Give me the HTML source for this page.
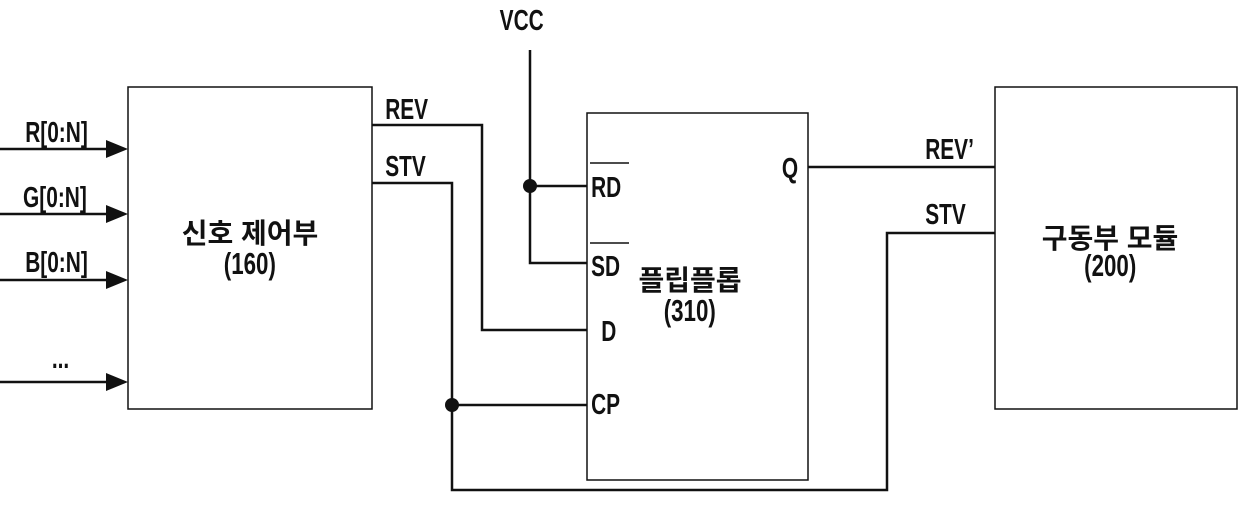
<!DOCTYPE html>
<html><head><meta charset="utf-8"><style>
html,body{margin:0;padding:0;background:#fff;}
svg text{font-family:"Liberation Sans","Noto Sans CJK KR",sans-serif;fill:#111;}
</style></head><body>
<svg width="1240" height="510" viewBox="0 0 1240 510" xmlns="http://www.w3.org/2000/svg">
<g fill="none" stroke="#111" stroke-width="1.5">
<rect x="128" y="87" width="244" height="322"/>
<rect x="587" y="113" width="221" height="367"/>
<rect x="995" y="87" width="242" height="322"/>
</g>
<g fill="none" stroke="#111" stroke-width="2.5">
<path d="M0,149 H112"/><path d="M0,214 H112"/><path d="M0,280 H112"/><path d="M0,382 H112"/>
<path d="M372,125 H482 V330 H587"/>
<path d="M372,183 H452 V490 H887 V233 H995"/>
<path d="M452,405 H587"/>
<path d="M530,50 V263 H587"/>
<path d="M530,186 H587"/>
<path d="M808,167 H995"/>
</g>
<g fill="#111">
<path d="M128,149 l-22,-9 v18 z"/><path d="M128,214 l-22,-9 v18 z"/><path d="M128,280 l-22,-9 v18 z"/><path d="M128,382 l-22,-9 v18 z"/>
<circle cx="530" cy="186" r="7"/><circle cx="452" cy="405" r="7"/>
</g>
<g stroke="#111" stroke-width="1.5"><path d="M590,163 H629"/><path d="M590,243 H629"/></g>
<g font-size="29" font-weight="bold" transform="scale(0.72,1)">
<text x="694" y="30">VCC</text>
<text x="35" y="142">R[0:N]</text>
<text x="32" y="207">G[0:N]</text>
<text x="35" y="272">B[0:N]</text>
<text x="72" y="368">...</text>
<text x="535" y="119">REV</text>
<text x="535" y="176">STV</text>
<text x="1285" y="159">REV’</text>
<text x="1285" y="224">STV</text>
<text x="1086" y="178">Q</text>
<text x="821" y="197">RD</text>
<text x="821" y="276">SD</text>
<text x="835" y="341">D</text>
<text x="821" y="414">CP</text>
<text x="347" y="274" font-size="31" text-anchor="middle">(160)</text>
<text x="958" y="321" font-size="31" text-anchor="middle">(310)</text>
<text x="1542" y="276" font-size="31" text-anchor="middle">(200)</text>
</g>
<g font-size="28" font-weight="bold">
<text x="250" y="243" text-anchor="middle">신호 제어부</text>
<text x="690" y="290" text-anchor="middle">플립플롭</text>
<text x="1110" y="248" text-anchor="middle">구동부 모듈</text>
</g>
</svg>
</body></html>
